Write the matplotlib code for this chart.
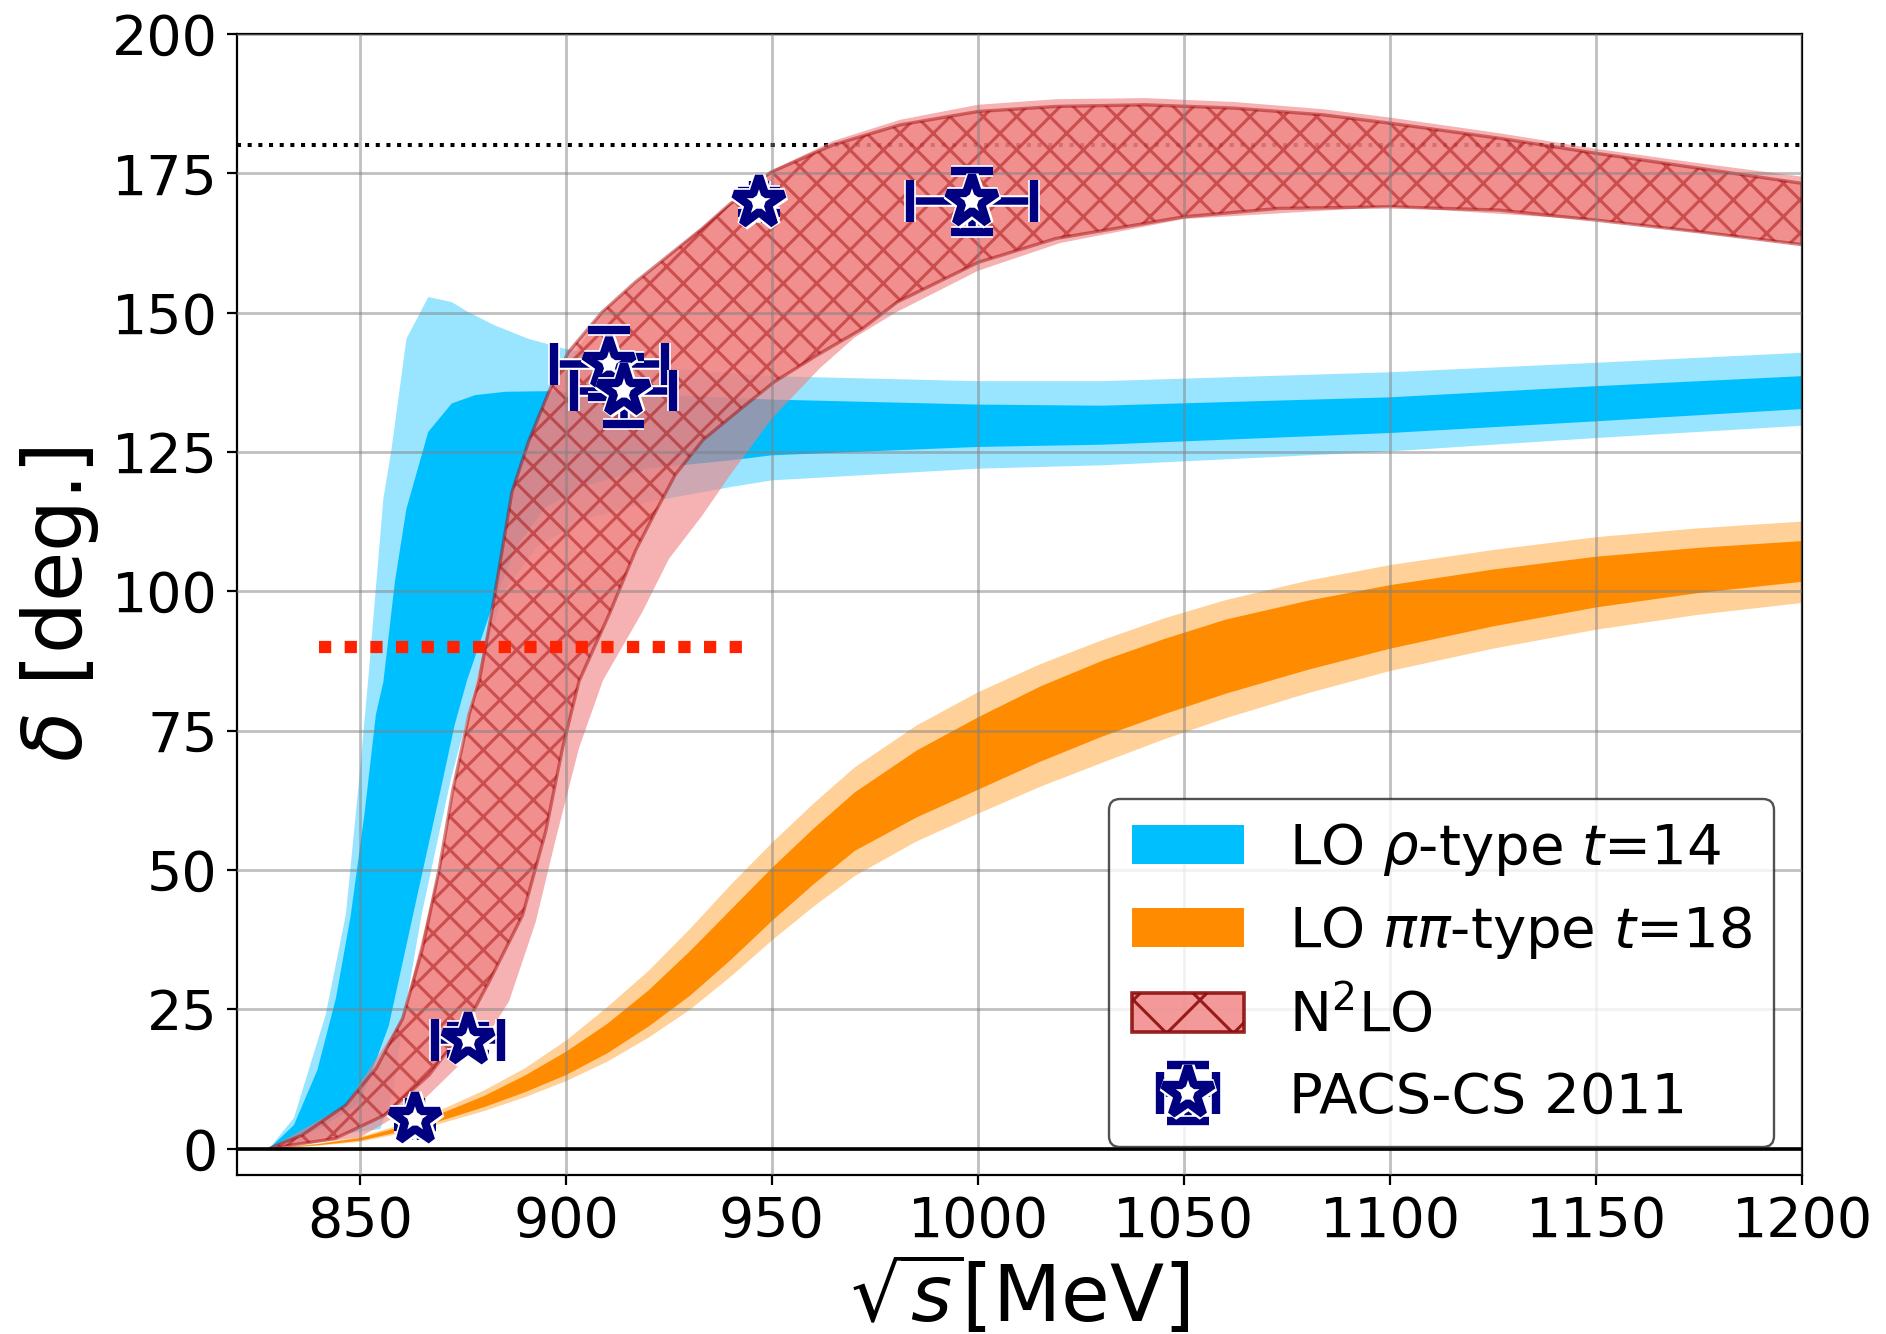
import numpy as np
import matplotlib
matplotlib.use("Agg")
import matplotlib.pyplot as plt
import matplotlib.patheffects as pe
from matplotlib.patches import Patch

plt.rcParams['hatch.linewidth'] = 1.1

# ---------------- data ----------------
# LO rho-type t=14 : outer (light) band
blu_lt_up_x = [828, 834, 841.7, 846.6, 849.8, 852, 855.7, 857.7, 861.3, 866.6, 872.3, 876.3, 882.8, 890.9, 899.8, 925, 950, 1000, 1030, 1100, 1150, 1200]
blu_lt_up_y = [0, 5.5, 24, 42, 66, 84, 116.6, 125.6, 145.3, 152.8, 151.9, 150.1, 147.7, 145.3, 143.5, 140, 138.6, 137.7, 137.7, 139.3, 141, 142.8]
blu_lt_lo_x = [828, 845, 855, 858, 861, 865, 872, 878.4, 885, 893, 905, 920, 940, 950, 1000, 1030, 1100, 1150, 1200]
blu_lt_lo_y = [0, 2.5, 3.5, 10, 25, 42, 66, 84, 100, 108, 113, 116, 118.7, 119.9, 122, 122.6, 125.1, 127.5, 129.7]
# LO rho-type t=14 : inner (dark) band
blu_dk_up_x = [828, 834, 839.7, 844.2, 847.8, 851.1, 853.9, 855.7, 858.5, 861.3, 866.6, 872.3, 878, 885.3, 895, 925, 950, 1000, 1030, 1100, 1150, 1200]
blu_dk_up_y = [0, 4.2, 14.1, 27, 41.9, 59.9, 77.9, 83.7, 101.7, 114.8, 128.6, 133.7, 135.2, 135.8, 135.9, 135.2, 134.4, 133.5, 133.3, 134.8, 136.8, 138.6]
blu_dk_lo_x = [828, 840, 850, 857, 864, 869.5, 873, 876, 882, 888, 895, 905, 920, 940, 950, 1000, 1030, 1100, 1150, 1200]
blu_dk_lo_y = [0, 3.5, 8, 22, 45.6, 64, 76, 84, 97, 108, 115, 119, 122, 123.5, 124.4, 125.9, 126.3, 128.4, 130.5, 132.7]

# LO pipi-type t=18
orn_x     = [828, 840, 850, 865, 880, 890, 900, 910, 920, 930, 940, 950, 960, 970, 985, 1000, 1015, 1030, 1045, 1060, 1080, 1100, 1125, 1150, 1175, 1200]
orn_lt_up = [0, 1.0, 2.2, 5.5, 10.5, 14.5, 19.5, 25.5, 32.0, 39.5, 47.5, 55.0, 62.0, 68.5, 76.0, 82.0, 87.0, 91.3, 95.2, 98.5, 102.0, 104.8, 107.5, 109.8, 111.4, 112.6]
orn_dk_up = [0, 0.9, 2.0, 5.0, 9.5, 13.2, 17.5, 22.5, 28.5, 35.5, 43.0, 50.5, 57.5, 64.0, 71.5, 77.5, 83.0, 87.6, 91.5, 95.0, 98.4, 101.2, 104.0, 106.3, 107.9, 109.1]
orn_dk_lo = [0, 0.7, 1.5, 4.0, 7.5, 10.2, 13.3, 17.2, 22.0, 27.5, 34.0, 41.0, 47.5, 53.5, 59.5, 64.5, 69.5, 74.0, 78.0, 81.7, 86.0, 89.8, 93.8, 97.2, 99.8, 101.8]
orn_lt_lo = [0, 0.6, 1.3, 3.6, 6.8, 9.3, 12.2, 15.7, 20.0, 25.0, 31.0, 37.5, 43.5, 49.0, 55.2, 60.2, 65.0, 69.3, 73.5, 77.3, 81.8, 85.8, 89.8, 93.2, 95.9, 98.0]

# N2LO : hatched band
red_up_x = [828, 836, 846.6, 854, 860.4, 865.2, 869.3, 872.5, 876.5, 879, 882, 886.9, 890.9, 895.8, 900.6, 908.8, 916.9, 925, 933.1, 939.5, 949.7, 964.8, 981.1, 1000, 1018.9, 1040.6, 1062.2, 1083.8, 1100, 1126.5, 1150, 1175.1, 1200]
red_up_y = [0, 2.4, 7.8, 14.4, 23.4, 35.9, 50.3, 64.1, 77.9, 84, 96.2, 117.8, 126.8, 135.7, 142.9, 150.1, 155.5, 160.3, 165.1, 169.3, 175.2, 180.1, 183.7, 186.1, 187.0, 187.3, 186.7, 185.5, 184.0, 181.3, 178.6, 175.9, 173.2]
red_lo_x = [828, 844, 856, 866.8, 874.9, 881.4, 889.5, 895.1, 899.2, 903.2, 910.7, 916.9, 921.7, 926.6, 933.3, 943, 950.6, 960.8, 971.9, 980.4, 1000, 1018.9, 1050, 1073, 1100, 1126.5, 1150, 1175.1, 1200]
red_lo_y = [0, 1.8, 6.0, 13.2, 21.0, 30.0, 41.9, 56.9, 71.9, 83.9, 96.2, 107.3, 114.2, 121.0, 127.2, 133.1, 137.6, 142.3, 147.1, 151.9, 159.0, 163.3, 167.2, 168.7, 169.0, 168.4, 166.6, 164.5, 162.2]
# N2LO : light band
pnk_up_x = [828, 846.6, 860.4, 869.3, 876.5, 882, 886.9, 895.8, 908.8, 925, 939.5, 949.7, 964.8, 981.1, 1000, 1018.9, 1040.6, 1062.2, 1083.8, 1100, 1126.5, 1150, 1175.1, 1200]
pnk_up_y = [0, 7.8, 23.4, 50.3, 77.9, 96.2, 117.8, 135.7, 150.1, 160.3, 169.3, 175.4, 180.8, 184.6, 187.3, 188.3, 188.5, 187.8, 186.5, 185.0, 182.2, 179.4, 176.8, 174.4]
pnk_lo_x = [828, 850, 865, 880, 886.2, 892.7, 897.6, 903.2, 909, 918.5, 925, 933, 940, 950, 961.6, 970, 980, 1000, 1020, 1050, 1100, 1150, 1200]
pnk_lo_y = [0, 2.0, 8.4, 19.2, 26.4, 40.7, 55.7, 71.9, 84, 96.2, 105.8, 113.5, 121, 131, 140, 145.5, 150, 157.5, 162.5, 166.8, 169, 166.6, 162.2]

# PACS-CS 2011
pacs_x    = [863.4, 876.3, 910.5, 914.0, 946.8, 998.5]
pacs_y    = [5.3, 19.5, 140.8, 136.0, 169.8, 170.0]
pacs_xerr = [1.5, 8.0, 13.5, 12.0, 1.5, 15.0]
pacs_yerr = [1.5, 2.5, 6.0, 6.0, 2.0, 5.5]

xticks = [850, 900, 950, 1000, 1050, 1100, 1150, 1200]
yticks = [0, 25, 50, 75, 100, 125, 150, 175, 200]

labels = [r'LO $\rho$-type $t$=14', r'LO $\pi\pi$-type $t$=18', r'N$^2$LO', 'PACS-CS 2011']


def band(ax, xu, yu, xl, yl, **kw):
    xs = np.concatenate([np.asarray(xu, float), np.asarray(xl, float)[::-1]])
    ys = np.concatenate([np.asarray(yu, float), np.asarray(yl, float)[::-1]])
    return ax.fill(xs, ys, **kw)


DPI = 200
fig = plt.figure(figsize=(1886 / DPI, 1334 / DPI), dpi=DPI)
ax = fig.add_axes([0.1257, 0.1192, 0.8298, 0.8553])

# blue
band(ax, blu_lt_up_x, blu_lt_up_y, blu_lt_lo_x, blu_lt_lo_y, color='deepskyblue', alpha=0.4, lw=0, zorder=1.0)
band(ax, blu_dk_up_x, blu_dk_up_y, blu_dk_lo_x, blu_dk_lo_y, color='deepskyblue', alpha=1.0, lw=0, zorder=1.01)
# orange
ax.fill_between(orn_x, orn_lt_lo, orn_lt_up, color='darkorange', alpha=0.4, lw=0, zorder=1.02)
ax.fill_between(orn_x, orn_dk_lo, orn_dk_up, color='darkorange', alpha=1.0, lw=0, zorder=1.03)

# 180 deg dotted line (under the red band)
ax.axhline(180, color='black', ls=':', lw=1.45, zorder=1.05)

# red
band(ax, pnk_up_x, pnk_up_y, pnk_lo_x, pnk_lo_y, color='lightcoral', alpha=0.6, lw=0, zorder=1.1)
band(ax, red_up_x, red_up_y, red_lo_x, red_lo_y, facecolor=(0.941, 0.502, 0.502, 0.7),
     edgecolor=(0.62, 0.0, 0.0, 0.45), hatch='xx', lw=1.2, zorder=1.2)

# horizontal lines
ax.axhline(0, color='black', lw=1.3, zorder=2.6)
ax.plot([840, 943], [90, 90], color='#ff2200', lw=4.4, ls=(0, (1, 1.1)), zorder=3)

# data points
eb = ax.errorbar(pacs_x, pacs_y, xerr=pacs_xerr, yerr=pacs_yerr, fmt='*', ms=19,
                 mfc='white', mec='navy', mew=3.0, ecolor='navy', elinewidth=2.7,
                 capsize=7.5, capthick=2.6, color='navy', zorder=6)
stroke = [pe.withStroke(linewidth=4.2, foreground='white')]
eb[0].set_path_effects([pe.withStroke(linewidth=4.6, foreground='white')])
for c in eb[1]:
    c.set_path_effects(stroke)
for c in eb[2]:
    c.set_path_effects(stroke)

ax.set_xlim(820.2, 1200)
ax.set_ylim(-4.75, 200)
ax.set_xticks(xticks)
ax.set_yticks(yticks)
ax.tick_params(labelsize=20, width=0.8, length=3.5)
for s in ax.spines.values():
    s.set_linewidth(0.8)
ax.grid(True, color='grey', alpha=0.5, lw=1.0)
ax.set_axisbelow(False)

ax.set_xlabel(r'$\sqrt{s}$[MeV]', fontsize=28.5, labelpad=2)
ax.set_ylabel(r'$\delta$ [deg.]', fontsize=29.5)

h_blue = Patch(facecolor='deepskyblue', edgecolor='none')
h_orn = Patch(facecolor='darkorange', edgecolor='none')
h_red = Patch(facecolor=(0.941, 0.502, 0.502, 0.8), edgecolor=(0.55, 0.05, 0.05, 0.9), hatch='x', lw=1.3)
leg = ax.legend([h_blue, h_orn, h_red, eb], labels, loc='lower right', fontsize=20.2,
                labelspacing=0.47, framealpha=0.8, edgecolor='0.15', fancybox=True)
leg.get_frame().set_linewidth(0.85)
leg.set_zorder(10)

fig.savefig('out.png', dpi=DPI)
